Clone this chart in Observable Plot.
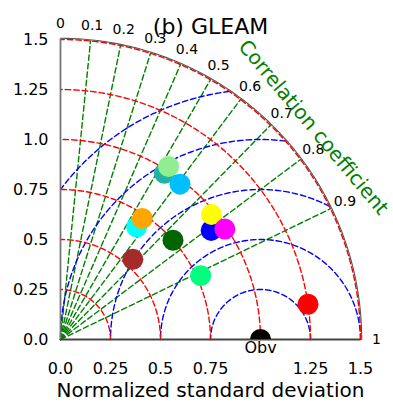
<!DOCTYPE html>
<html>
<head>
<meta charset="utf-8">
<script src="https://cdn.jsdelivr.net/npm/d3@7"></script>
<script src="https://cdn.jsdelivr.net/npm/@observablehq/plot@0.6"></script>
<style>
  body { margin: 0; background: #fff; }
  svg { display: block; }
</style>
</head>
<body>
<div id="chart"></div>
<script>
// Text
const title = "(b) GLEAM";
const xLabel = "Normalized standard deviation";
const corrLabel = "Correlation coefficient";
const refLabel = "Obv";

// Reference (observations)
const refStd = 1.0;
const refCorr = 1.0;

// Datasets: colour, normalized standard deviation, correlation coefficient
const pointColors = ["brown", "cyan", "orange", "lightseagreen", "lightgreen", "deepskyblue",
                     "darkgreen", "springgreen", "blue", "yellow", "magenta", "red"];
const pointStd  = [0.54, 0.68, 0.73, 0.98, 1.02, 0.98, 0.75, 0.77, 0.93, 0.98, 0.99, 1.25];
const pointCorr = [0.67, 0.56, 0.56, 0.53, 0.53, 0.61, 0.75, 0.91, 0.81, 0.77, 0.83, 0.99];

// Axis ticks
const xTicks = [0, 0.25, 0.5, 0.75, 1.25, 1.5];
const xTickLabels = ["0.0", "0.25", "0.5", "0.75", "1.25", "1.5"];
const yTicks = [0, 0.25, 0.5, 0.75, 1.0, 1.25, 1.5];
const yTickLabels = ["0.0", "0.25", "0.5", "0.75", "1.0", "1.25", "1.5"];
const corrTicks = [0, 0.1, 0.2, 0.3, 0.4, 0.5, 0.6, 0.7, 0.8, 0.9, 1];
const corrTickLabels = ["0", "0.1", "0.2", "0.3", "0.4", "0.5", "0.6", "0.7", "0.8", "0.9", "1"];

// Grid levels
const stdLevels = [0.25, 0.5, 0.75, 1.0, 1.25, 1.5];
const rmsLevels = [0.25, 0.5, 0.75, 1.0, 1.25];
const corrLevels = [0.1, 0.2, 0.3, 0.4, 0.5, 0.6, 0.7, 0.8, 0.9];
const stdMax = 1.5;

// Layout of the polar annotations (in data units / degrees)
const corrTickRadius = 1.58;
const corrLabelRadius = 1.65;
const corrLabelAngle = 40;

const sinOf = c => Math.sqrt(Math.max(0, 1 - c * c));
const N = 180;

// Standard-deviation arcs centred on the origin
const stdArcs = stdLevels.flatMap(s => d3.range(N + 1).map(k => {
  const t = (k / N) * Math.PI / 2;
  return {level: s, x: s * Math.cos(t), y: s * Math.sin(t)};
}));

// Centred RMS difference arcs around the reference point, kept inside the quarter disc
const rmsArcs = rmsLevels.flatMap(r => {
  const t0 = Math.acos(Math.min(1, Math.max(-1, (stdMax * stdMax - refStd * refStd - r * r) / (2 * r * refStd))));
  const t1 = Math.acos(Math.max(-1, -refStd / r));
  return d3.range(N + 1).map(k => {
    const t = t0 + (t1 - t0) * k / N;
    return {level: r, x: refStd + r * Math.cos(t), y: r * Math.sin(t)};
  });
});

// Correlation rays from the origin
const corrRays = corrLevels.flatMap(c => [
  {level: c, x: 0, y: 0},
  {level: c, x: stdMax * c, y: stdMax * sinOf(c)}
]);

// Outer boundary of the diagram
const rim = d3.range(N + 1).map(k => {
  const t = (k / N) * Math.PI / 2;
  return {x: (stdMax + 0.006) * Math.cos(t), y: (stdMax + 0.006) * Math.sin(t)};
});

const idx = d3.range(pointColors.length);
const dash = "5.5,3";

const chart = Plot.plot({
  width: 393,
  height: 414,
  marginLeft: 60,
  marginRight: 33,
  marginTop: 39,
  marginBottom: 75,
  x: {domain: [0, stdMax], axis: null},
  y: {domain: [0, stdMax], axis: null},
  style: {fontFamily: "DejaVu Sans", background: "#fff", color: "#000"},
  marks: [
    Plot.line(corrRays, {x: "x", y: "y", z: "level", stroke: "green", strokeWidth: 1.4, strokeDasharray: dash}),
    Plot.line(rmsArcs, {x: "x", y: "y", z: "level", stroke: "blue", strokeWidth: 1.4, strokeDasharray: dash}),
    Plot.line(stdArcs, {x: "x", y: "y", z: "level", stroke: "red", strokeWidth: 1.4, strokeDasharray: dash}),
    Plot.line(rim, {x: "x", y: "y", stroke: "#555", strokeWidth: 1.1}),
    Plot.ruleX([0], {y1: 0, y2: stdMax, stroke: "#777", strokeWidth: 1.8}),
    Plot.ruleY([0], {x1: 0, x2: stdMax, stroke: "#444", strokeWidth: 1.8}),

    // Axes
    Plot.axisY(yTicks, {tickSize: 0, tickPadding: 12, fontSize: 16, label: null,
      tickFormat: d => yTickLabels[yTicks.indexOf(d)]}),
    Plot.axisX(xTicks, {tickSize: 0, tickPadding: 23, fontSize: 16, label: null,
      tickFormat: d => xTickLabels[xTicks.indexOf(d)]}),

    // Correlation tick labels around the rim
    Plot.text(corrTicks, {
      x: c => corrTickRadius * c,
      y: c => corrTickRadius * sinOf(c),
      text: (c, i) => corrTickLabels[i],
      fontSize: 14, fill: "#000"
    }),
    Plot.text([corrLabel], {
      x: () => corrLabelRadius * Math.cos(corrLabelAngle * Math.PI / 180),
      y: () => corrLabelRadius * Math.sin(corrLabelAngle * Math.PI / 180),
      text: d => d, rotate: 50, fontSize: 20, fill: "green"
    }),

    // Reference point (clipped at the axis) and its label
    Plot.dot([refStd], {x: s => s * refCorr, y: s => s * sinOf(refCorr), fill: "black", r: 10.5, clip: true}),
    Plot.text([refLabel], {x: () => refStd * refCorr, y: () => 0, text: d => d,
      lineAnchor: "top", dy: 2, fontSize: 16, fill: "#000"}),

    // Datasets
    Plot.dot(idx, {
      x: i => pointStd[i] * pointCorr[i],
      y: i => pointStd[i] * sinOf(pointCorr[i]),
      fill: i => pointColors[i],
      r: 10.5
    }),

    // Title and x label
    Plot.text([title], {frameAnchor: "top", dy: -21, text: d => d, fontSize: 22, fill: "#000"}),
    Plot.text([xLabel], {frameAnchor: "bottom", dy: 57, text: d => d, fontSize: 20, fill: "#000"})
  ]
});

document.getElementById("chart").appendChild(chart);
</script>
</body>
</html>
